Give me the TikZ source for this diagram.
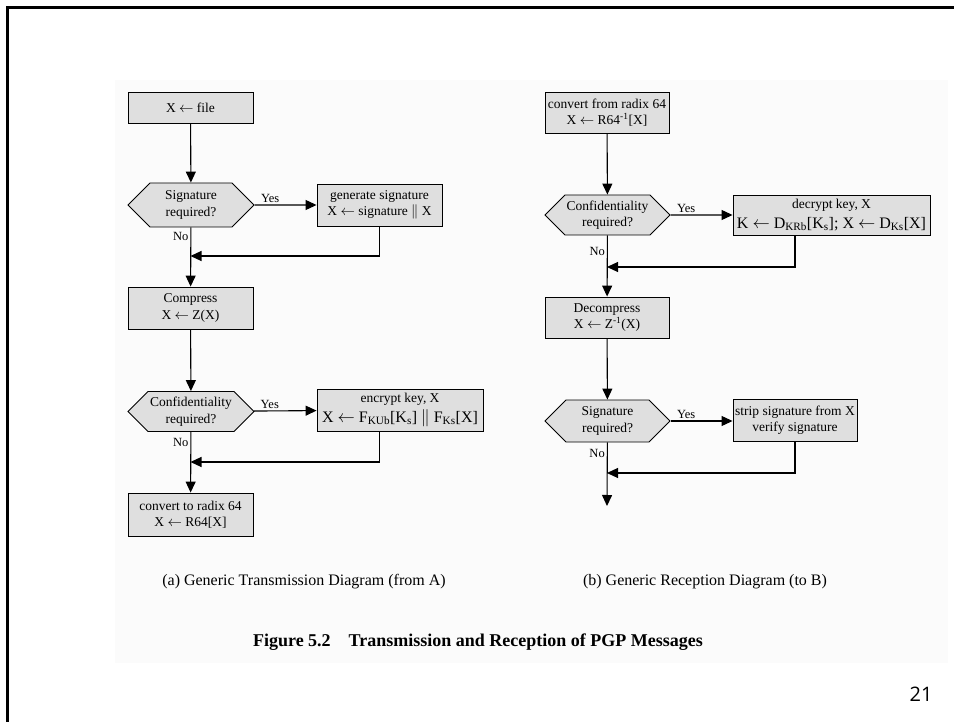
\documentclass[tikz,border=0pt]{standalone}
\usepackage{fontspec}
\setmainfont{Liberation Serif}
\setsansfont{Open Sans}
\usetikzlibrary{arrows.meta,shapes.symbols}

\newcommand{\lar}{$\leftarrow$}
\newcommand{\bigline}{\fontsize{16}{18}\selectfont}

\tikzset{
  stepbox/.style={draw, fill=gray!25, line width=0.9pt, minimum width=125pt,
    minimum height=42pt, inner sep=1pt, align=center,
    font=\fontsize{13.5}{16.5}\selectfont},
  askbox/.style={signal, signal to=east and west, signal pointer angle=90,
    draw, fill=gray!25, line width=0.9pt, minimum width=126pt,
    minimum height=42pt, inner sep=1pt, align=center,
    font=\fontsize{13.5}{16.5}\selectfont},
  flow/.style={line width=1.1pt, -{Triangle[length=11pt,width=10pt]}},
  lbl/.style={font=\fontsize{12.5}{12.5}\selectfont, inner sep=2pt},
}

\begin{document}
\begin{tikzpicture}[x=1pt, y=-1pt]
  \useasboundingbox (0,0) rectangle (954,722);
  \fill[black!1.5] (115,80) rectangle (948,663);
  \draw[line width=3pt] (7,722) -- (7,7.5) -- (954,7.5);

  % (a) transmission
  \node[stepbox, minimum height=31pt] (file) at (190.5,107.5) {X \lar\ file};
  \node[askbox, minimum height=44pt] (sigq) at (191,205) {Signature\\required?};
  \node[stepbox] (gensig) at (379.5,205) {generate signature\\X \lar\ signature $\|$ X};
  \coordinate (join1) at (190.5,256);
  \node[stepbox] (compress) at (190.5,308) {Compress\\X \lar\ Z(X)};
  \node[askbox, minimum height=40pt] (confq) at (191,411.5) {Confidentiality\\required?};
  \node[stepbox, minimum width=166pt] (encrypt) at (400,410)
    {encrypt key, X\\[3pt]{\bigline X \lar\ F\textsubscript{KUb}[K\textsubscript{s}] $\|$ F\textsubscript{Ks}[X]}};
  \coordinate (join2) at (190.5,462);
  \node[stepbox, minimum height=43pt] (toradix) at (190.5,514.5) {convert to radix 64\\X \lar\ R64[X]};

  \draw[flow] (file) -- (sigq);
  \draw[flow] (sigq) -- node[lbl, pos=0.25, above] {Yes} (gensig);
  \draw[flow] (sigq) -- node[lbl, pos=0.15, left] {No} (compress);
  \draw[flow] (gensig) |- (join1);
  \draw[flow] (compress) -- (confq);
  \draw[flow] (confq) -- node[lbl, pos=0.25, above] {Yes} (encrypt);
  \draw[flow] (confq) -- node[lbl, pos=0.18, left] {No} (toradix);
  \draw[flow] (gensig.south |- encrypt.south) |- (join2);

  % (b) reception
  \node[stepbox, minimum width=124pt, minimum height=41pt] (fromradix) at (607,112.5)
    {convert from radix 64\\X \lar\ R64\textsuperscript{-1}[X]};
  \node[askbox, minimum width=125pt, minimum height=40pt] (confq2) at (607.5,215) {Confidentiality\\required?};
  \node[stepbox, minimum width=197pt, minimum height=40pt] (decrypt) at (831.5,215)
    {decrypt key, X\\[3pt]{\bigline K \lar\ D\textsubscript{KRb}[K\textsubscript{s}]; X \lar\ D\textsubscript{Ks}[X]}};
  \coordinate (join3) at (607,267);
  \node[stepbox, minimum width=124pt, minimum height=41pt] (decompress) at (607,317.5)
    {Decompress\\X \lar\ Z\textsuperscript{-1}(X)};
  \node[askbox, minimum width=125pt] (sigq2) at (607.5,421) {Signature\\required?};
  \node[stepbox, minimum width=124pt] (strip) at (795,420) {strip signature from X\\verify signature};
  \coordinate (join4) at (607,473);
  \coordinate (flowend) at (607,506);

  \draw[flow] (fromradix) -- (confq2);
  \draw[flow] (confq2) -- node[lbl, pos=0.25, above] {Yes} (decrypt);
  \draw[flow] (confq2) -- node[lbl, pos=0.26, left] {No} (decompress);
  \draw[flow] (strip.south |- decrypt.south) |- (join3);
  \draw[flow] (decompress) -- (sigq2);
  \draw[flow] (sigq2.east) -- node[lbl, pos=0.25, above] {Yes} (sigq2.east -| strip.west);
  \draw[flow] (sigq2) -- node[lbl, pos=0.17, left] {No} (flowend);
  \draw[flow] (strip) |- (join4);

  % captions
  \node[font=\fontsize{16}{16}\selectfont] (capa) at (304,582) {(a) Generic Transmission Diagram (from A)};
  \node[font=\fontsize{16}{16}\selectfont] (capb) at (705,582) {(b) Generic Reception Diagram (to B)};
  \node[font=\fontsize{18}{18}\selectfont\bfseries] (title) at (478,642)
    {Figure 5.2\quad Transmission and Reception of PGP Messages};
  \node[font=\fontsize{20}{20}\selectfont\sffamily] (pagenum) at (921,694) {21};
\end{tikzpicture}
\end{document}
